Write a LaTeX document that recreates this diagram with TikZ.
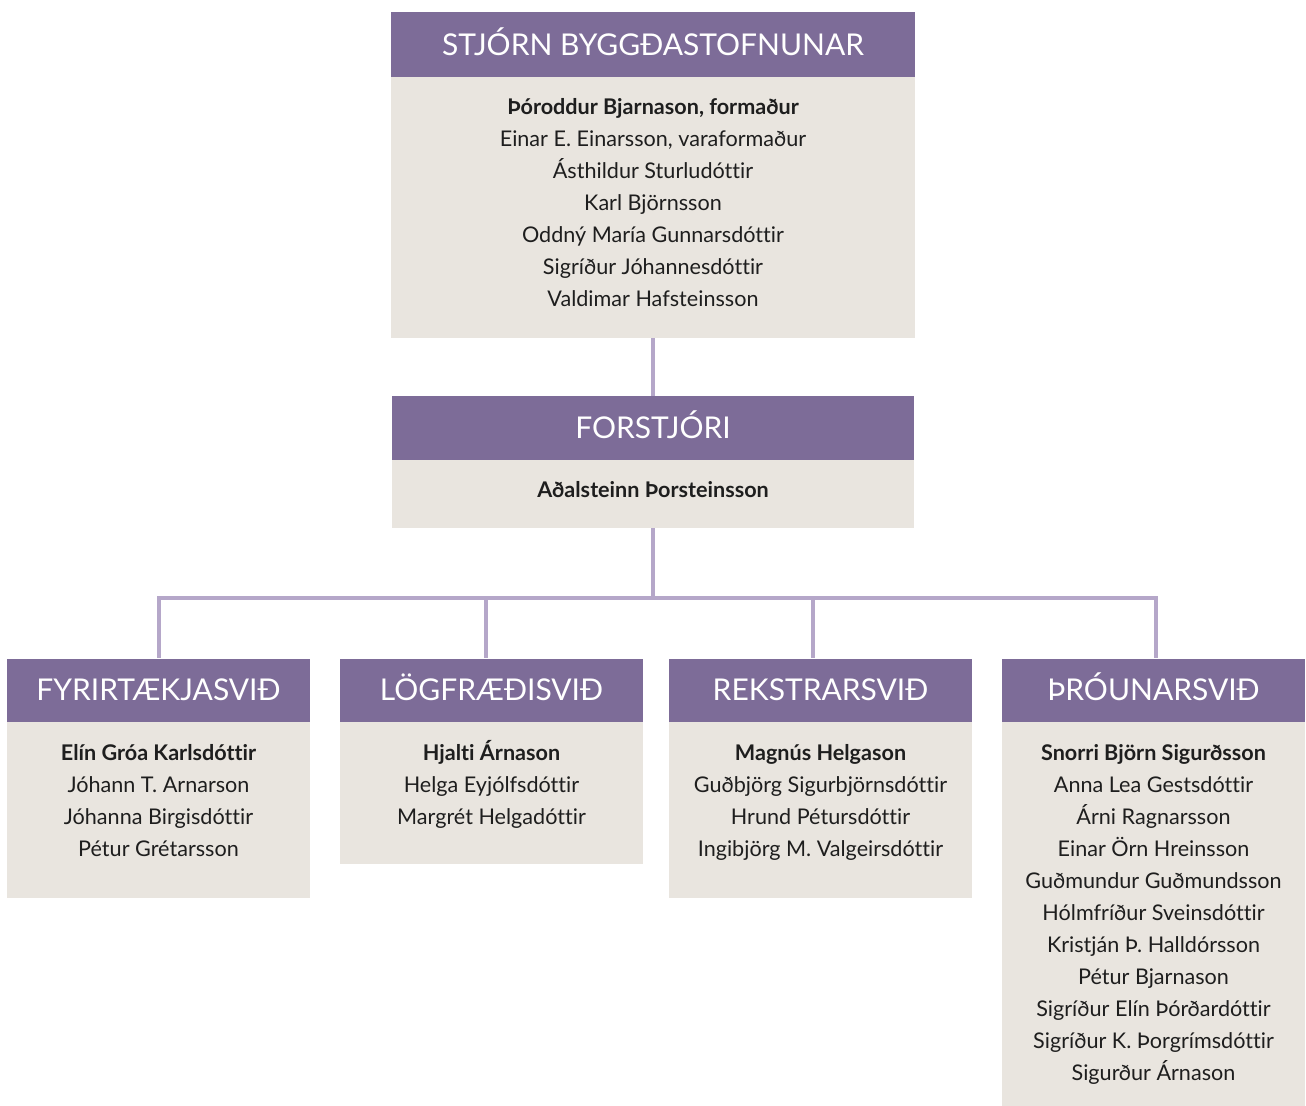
\documentclass[tikz,border=0pt]{standalone}
\usepackage{fontspec}
\setmainfont{Lato}[Ligatures=CommonOff]
\definecolor{hdrc}{HTML}{7D6C98}
\definecolor{bdyc}{HTML}{E9E5DF}
\definecolor{lnkc}{HTML}{B5A7C9}
\definecolor{txtc}{HTML}{1E1E1E}
\begin{document}
\begin{tikzpicture}[x=0.75pt,y=-0.75pt,
  hdrbox/.style 2 args={rectangle, fill=hdrc, draw=none, inner sep=0pt,
    minimum width=#1*0.75pt, minimum height=#2*0.75pt, text=white,
    font=\fontsize{22.5}{22.5}\selectfont, text height=16.2pt, text depth=0pt},
  bdybox/.style 2 args={rectangle, fill=bdyc, draw=none, inner sep=0pt,
    minimum width=#1*0.75pt, minimum height=#2*0.75pt},
  nm/.style={inner sep=0pt, text=txtc, font=\fontsize{16.2}{16.2}\selectfont,
    text height=11.7pt, text depth=0pt},
  nmb/.style={nm, font=\fontsize{16.2}{16.2}\selectfont\bfseries},
  link/.style={draw=lnkc, line width=2.4pt}]
\useasboundingbox (0,0) rectangle (1306,1106);
\fill[white] (0,0) rectangle (1306,1106);

% top board
\node[bdybox={524}{261}] (b0) at (653,207.5) {};
\node[hdrbox={524}{65}] (h0) at (653,45) {STJÓRN BYGGÐASTOFNUNAR};
\node[nmb] (t1) at (653,107) {Þóroddur Bjarnason, formaður};
\foreach [count=\i] \t in {{Einar E. Einarsson, varaformaður},Ásthildur Sturludóttir,Karl Björnsson,Oddný María Gunnarsdóttir,Sigríður Jóhannesdóttir,Valdimar Hafsteinsson}
  \node[nm] (t\i x) at (653,107+32*\i) {\t};

% director
\node[bdybox={522}{69}] (bf) at (653,493.5) {};
\node[hdrbox={522}{64}] (hf) at (653,428) {FORSTJÓRI};
\node[nmb] (f1) at (653,490) {Aðalsteinn Þorsteinsson};

% departments
\node[bdybox={303}{177}] (b1) at (158.5,809.5) {};
\node[hdrbox={303}{63}] (h1) at (158.5,690) {FYRIRTÆKJASVIÐ};
\node[nmb] (a0) at (158.5,753) {Elín Gróa Karlsdóttir};
\foreach [count=\i] \t in {Jóhann T. Arnarson,Jóhanna Birgisdóttir,Pétur Grétarsson}
  \node[nm] (a\i) at (158.5,753+32*\i) {\t};

\node[bdybox={303}{143}] (b2) at (491.5,792.5) {};
\node[hdrbox={303}{63}] (h2) at (491.5,690) {LÖGFRÆÐISVIÐ};
\node[nmb] (c0) at (491.5,753) {Hjalti Árnason};
\foreach [count=\i] \t in {Helga Eyjólfsdóttir,Margrét Helgadóttir}
  \node[nm] (c\i) at (491.5,753+32*\i) {\t};

\node[bdybox={303}{177}] (b3) at (820.5,809.5) {};
\node[hdrbox={303}{63}] (h3) at (820.5,690) {REKSTRARSVIÐ};
\node[nmb] (r0) at (820.5,753) {Magnús Helgason};
\foreach [count=\i] \t in {Guðbjörg Sigurbjörnsdóttir,Hrund Pétursdóttir,Ingibjörg M. Valgeirsdóttir}
  \node[nm] (r\i) at (820.5,753+32*\i) {\t};

\node[bdybox={303}{385}] (b4) at (1153.5,913.5) {};
\node[hdrbox={303}{63}] (h4) at (1153.5,690) {ÞRÓUNARSVIÐ};
\node[nmb] (p0) at (1153.5,753) {Snorri Björn Sigurðsson};
\foreach [count=\i] \t in {Anna Lea Gestsdóttir,Árni Ragnarsson,Einar Örn Hreinsson,Guðmundur Guðmundsson,Hólmfríður Sveinsdóttir,Kristján Þ. Halldórsson,Pétur Bjarnason,Sigríður Elín Þórðardóttir,Sigríður K. Þorgrímsdóttir,Sigurður Árnason}
  \node[nm] (p\i) at (1153.5,753+32*\i) {\t};

% connectors
\coordinate (j) at (653,598);
\coordinate (d1) at (159,658);
\coordinate (d2) at (486,658);
\coordinate (d3) at (813,658);
\coordinate (d4) at (1156,658);
\draw[link] (b0.south) -- (hf.north);
\draw[link] (bf.south) -- (j);
\draw[link] (j) -| (d1);
\draw[link] (j) -| (d2);
\draw[link] (j) -| (d3);
\draw[link] (j) -| (d4);
\end{tikzpicture}
\end{document}
